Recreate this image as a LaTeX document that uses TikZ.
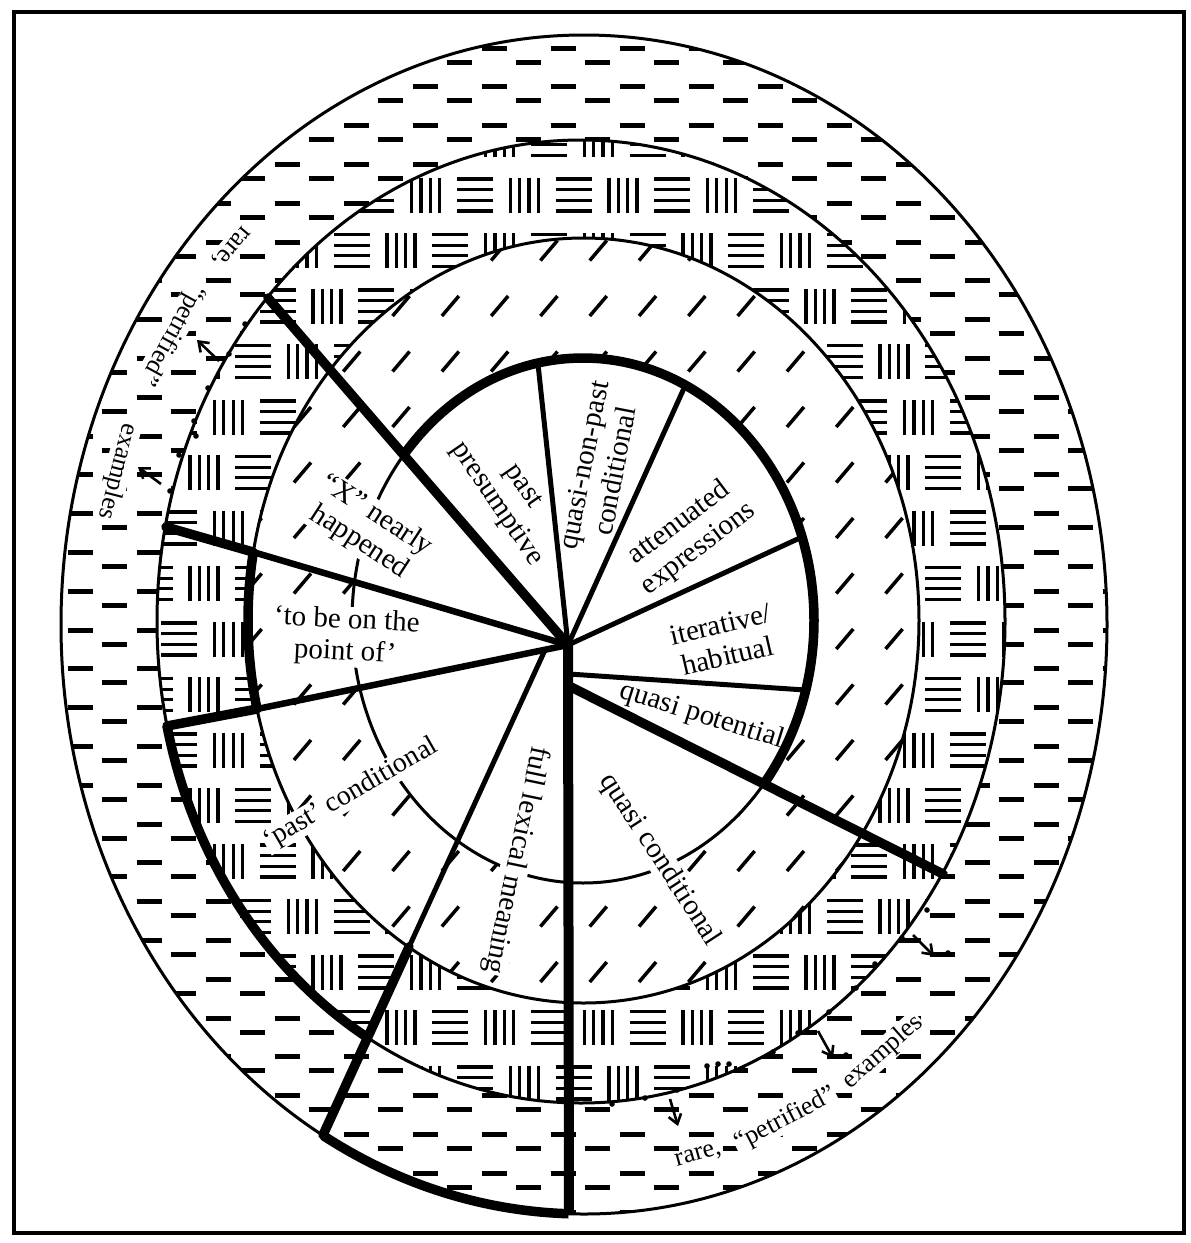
\documentclass[tikz,border=0pt]{standalone}
\usepackage{fontspec}
\setmainfont{Liberation Serif}
\usetikzlibrary{calc,arrows.meta}
\newcommand{\lblfont}{\fontsize{29}{32}\selectfont}
\newcommand{\wordfont}{\fontsize{26}{28}\selectfont}
\begin{document}
\begin{tikzpicture}[x=1pt,y=-1pt,
  ell1/.style={x radius=231pt,y radius=262.5pt},
  ell2/.style={x radius=335.5pt,y radius=382.5pt},
  ell3/.style={x radius=424pt,y radius=481.5pt},
  ell4/.style={x radius=523pt,y radius=589.5pt},
  thinline/.style={line width=3pt},
  spoke/.style={line width=5pt},
  midspoke/.style={line width=6.5pt},
  thickline/.style={line width=9.5pt,line cap=round,line join=round},
  pat/.style={line width=3.3pt},
  dashmark/.style={line width=5pt},
  slashmark/.style={line width=3.5pt},
  lbl/.style={font=\lblfont,fill=white,inner sep=1pt,align=center},
  wordlbl/.style={font=\wordfont,fill=white,inner sep=1pt,anchor=base},
  arr/.style={line width=2.6pt,-{Straight Barb[length=9pt,width=13pt]}},
]
\useasboundingbox (0,0) rectangle (1191,1243);
\fill[white] (0,0) rectangle (1191,1243);

\coordinate (c1) at (583,620.5);
\coordinate (c2) at (583.5,620.5);
\coordinate (c3) at (581,621.5);
\coordinate (c4) at (584,624.5);

% ---------- dash ring ----------
\begin{scope}
\clip (c4) ellipse [ell4];
\draw[dashmark] \foreach \i in {-8,...,8} { \foreach \j in {-1,...,30} {
  ({584.5+69*\i},{62+38.8*\j}) -- ++(25,0)
  ({550.5+69*\i},{48+38.8*\j}) -- ++(25,0) } };
\end{scope}

% ---------- checker ring ----------
\fill[white] (c3) ellipse [ell3];
\begin{scope}
\clip (c3) ellipse [ell3];
\draw[pat]
 \foreach \k [evaluate=\k as \yy using {195+55.5*\k}, evaluate=\k as \off using {24.65*mod(\k+2,2)}] in {-1,...,17} {
   \foreach \m [evaluate=\m as \xa using {475+98.6*\m-\off}, evaluate=\m as \xb using {524.3+98.6*\m-\off}] in {-4,...,6} {
     ({\xa-18},{\yy-16}) -- ++(36,0) ({\xa-18},{\yy-5.33}) -- ++(36,0)
     ({\xa-18},{\yy+5.33}) -- ++(36,0) ({\xa-18},{\yy+16}) -- ++(36,0)
     ({\xb-14},{\yy-17.5}) -- ++(0,35) ({\xb-4.67},{\yy-17.5}) -- ++(0,35)
     ({\xb+4.67},{\yy-17.5}) -- ++(0,35) ({\xb+14},{\yy-17.5}) -- ++(0,35)
   } };
\end{scope}

% ---------- slash ring ----------
\fill[white] (c2) ellipse [ell2];
\begin{scope}
\clip (c2) ellipse [ell2];
\draw[slashmark] \foreach \k in {0,...,15} { \foreach \n in {-7,...,9} {
  ({491.15+49.3*\n},{205+55.5*\k}) -- ++(17,-20) } };
\end{scope}
\fill[white] (c1) ellipse [ell1];

% ---------- thin ellipses ----------
\draw[thinline] (c1) ellipse [ell1] (c2) ellipse [ell2] (c3) ellipse [ell3] (c4) ellipse [ell4];

% ---------- coordinates of spokes ----------
\coordinate (H) at (568,645);
\coordinate (s1) at (268,298);
\coordinate (s2) at (538,364);
\coordinate (s3) at (685,386);
\coordinate (s4) at (802,537);
\coordinate (s5a) at (569,674);
\coordinate (s5) at (805,690);
\coordinate (s6a) at (569,686);
\coordinate (s6) at (943,874);
\coordinate (s7) at (569,1214);
\coordinate (s8a) at (545,650);
\coordinate (s8m) at (409,947);
\coordinate (s8) at (323,1135);
\coordinate (s9m) at (257,709);
\coordinate (s9) at (167,726);
\coordinate (s10m) at (253,552);
\coordinate (s10) at (166,527);

% ---------- labels ----------
\node[lbl,rotate=-55.5] (pp) at (509,496) {past\\presumptive};
\node[lbl,rotate=79] (qnp) at (599,468) {quasi-non-past\\conditional};
\node[lbl,rotate=37] (att) at (689,536) {attenuated\\expressions};
\node[lbl,rotate=13] (ith) at (724,640) {iterative/\\habitual};
\node[lbl,rotate=-17.5] (qp) at (702,716) {quasi potential};
\node[lbl,rotate=-57] (qc) at (660,860) {quasi conditional};
\node[lbl,rotate=-101.75] (flm) at (516,860) {full lexical meaning};
\node[lbl,rotate=30,font=\fontsize{28}{32}\selectfont] (pc) at (351,794) {‘past’ conditional};
\node[lbl,rotate=-33] (xnh) at (368,529) {“X” nearly\\happened};
\node[lbl,rotate=-3] (tbp) at (346,637) {‘to be on the\\point of’};

% ---------- curved texts (word by word along the outer ring) ----------
\node[wordlbl,rotate=-130.1] (lw1) at (227.1,243.1) {rare,};
\node[wordlbl,rotate=-118.9] (lw2) at (166.3,331.8) {“petrified”};
\node[wordlbl,rotate=-104.4] (lw3) at (111.5,469.9) {examples};
\node[wordlbl,rotate=15.6] (rw1) at (699.5,1160) {rare,};
\node[wordlbl,rotate=27.4] (rw2) at (788.4,1125.1) {“petrified”};
\node[wordlbl,rotate=41.4] (rw3) at (887,1057) {examples};

% ---------- thick arcs ----------
\begin{scope}
\clip (H) -- ($(H)!3!(s1)$) -- (2200,-500) -- ($(s6a)!4!(s6)$) -- (s6a) -- cycle;
\draw[thickline] (c1) ellipse [ell1];
\end{scope}
\begin{scope}
\clip (H) -- ($(H)!3!(s10m)$) -- ($(H)!3!(s9m)$) -- cycle;
\draw[thickline] (c2) ellipse [ell2];
\end{scope}
\begin{scope}
\clip (s9m) -- ($(s9m)!4!(s9)$) -- ($(s8a)!3!(s8)$) -- (s8a) -- cycle;
\draw[thickline] (c3) ellipse [ell3];
\end{scope}
\begin{scope}
\clip (s8a) -- ($(s8a)!3!(s8)$) -- (569,2000) -- (H) -- cycle;
\draw[thickline] (c4) ellipse [ell4];
\end{scope}

% ---------- spokes ----------
\draw[spoke] (H) -- (s2);
\draw[spoke] (H) -- (s3);
\draw[spoke] (H) -- (s4);
\draw[spoke] (s5a) -- (s5);
\draw[spoke] (s8a) -- (s8m);
\draw[thickline] (s8m) -- (s8);
\draw[midspoke] (H) -- (s9m);
\draw[thickline] (s9m) -- (s9);
\draw[midspoke] (H) -- (s10m);
\draw[thickline] (s10m) -- (s10);
\draw[thickline] (H) -- (s1);
\draw[thickline] (s6a) -- (s6);
\draw[line width=10pt] (H) -- (s7);

% ---------- dotted arrows ----------
\coordinate (la1s) at (219,361); \coordinate (la1e) at (197,340);
\coordinate (la2s) at (161,484); \coordinate (la2e) at (138,467);
\draw[arr] (la1s) -- (la1e);
\draw[arr] (la2s) -- (la2e);
\foreach \p in {(245,324),(229,354),(208,388),(194,421),(196,436),(179,455),(170,491)}
  \fill \p circle (2.8pt);
\coordinate (ra1s) at (913,935); \coordinate (ra1e) at (934,956);
\coordinate (ra2s) at (818,1031); \coordinate (ra2e) at (833,1058);
\coordinate (ra3s) at (670,1099); \coordinate (ra3e) at (678,1126);
\draw[arr] (ra1s) -- (ra1e);
\draw[arr] (ra2s) -- (ra2e);
\draw[arr] (ra3s) -- (ra3e);
\foreach \p in {(927,910),(902,938),(948,953),(875,964),(856,988),(829,1012),(798,1033),(846,1055),(773,1052),(707,1066),(718,1064),(729,1064),(743,1069),(677,1090),(645,1098),(612,1104)}
  \fill \p circle (2.8pt);

% ---------- frame ----------
\draw[line width=3.5pt] (14,12) rectangle (1184,1233);
\end{tikzpicture}
\end{document}
